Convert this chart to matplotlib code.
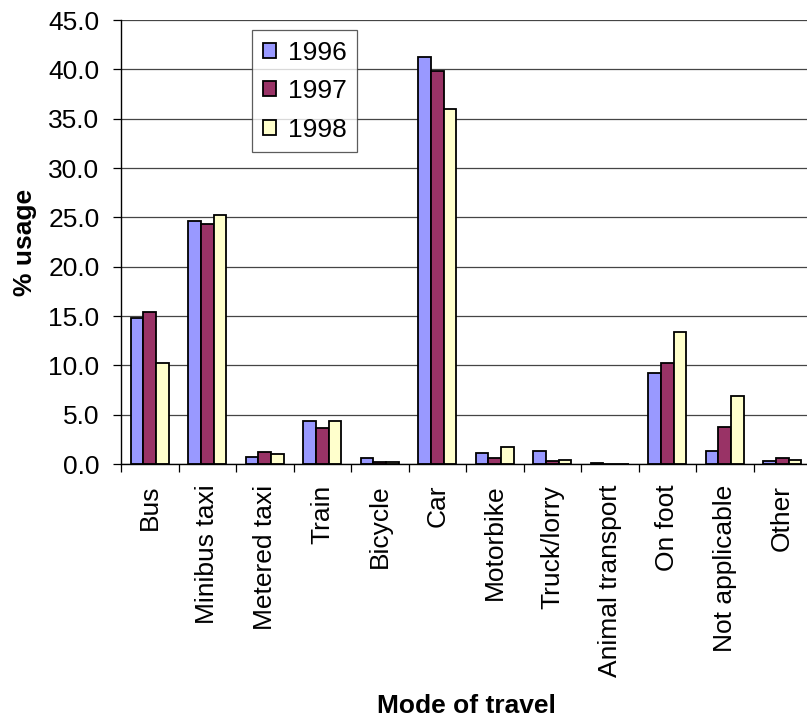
import matplotlib
matplotlib.use("Agg")
import matplotlib.pyplot as plt
import numpy as np

# Survey data: share of respondents by main mode of travel
modes = ["Bus", "Minibus taxi", "Metered taxi", "Train", "Bicycle", "Car",
         "Motorbike", "Truck/lorry", "Animal transport", "On foot",
         "Not applicable", "Other"]
years = ["1996", "1997", "1998"]
usage_1996 = [14.8, 24.6, 0.7, 4.4, 0.6, 41.2, 1.1, 1.3, 0.1, 9.2, 1.3, 0.3]
usage_1997 = [15.4, 24.3, 1.2, 3.6, 0.2, 39.8, 0.6, 0.3, 0.0, 10.2, 3.7, 0.6]
usage_1998 = [10.2, 25.2, 1.0, 4.4, 0.2, 36.0, 1.7, 0.4, 0.0, 13.4, 6.9, 0.4]
yticks = [0, 5, 10, 15, 20, 25, 30, 35, 40, 45]

series = [usage_1996, usage_1997, usage_1998]
colors = ["#9999FF", "#993366", "#FFFFCC"]

plt.rcParams["font.family"] = ["Liberation Sans", "DejaVu Sans"]
FS = 19

W, H = 807, 723
fig = plt.figure(figsize=(W / 100, H / 100), dpi=100)
ax = fig.add_axes([121 / W, 1 - 464 / H, 690 / W, 444 / H])

x = np.arange(len(modes))
bw = 1 / 4.5
for i, (vals, col, yr) in enumerate(zip(series, colors, years)):
    ax.bar(x + (i - 1) * bw, vals, width=bw, color=col, edgecolor="black",
           linewidth=1.3, label=yr, zorder=3)

ax.set_xlim(-0.5, len(modes) - 0.5)
ax.set_ylim(0, 45)
ax.set_yticks(yticks)
ax.set_yticklabels([f"{v:.1f}" for v in yticks], fontsize=FS)
ax.yaxis.grid(True, color="#454545", linewidth=0.9, zorder=0)
ax.tick_params(axis="y", direction="out", length=5.5, width=0.9, pad=10)

# category boundaries carry the tick marks, centres carry the labels
ax.set_xticks(np.arange(-0.5, len(modes) - 0.4, 1.0))
ax.set_xticklabels([])
ax.tick_params(axis="x", which="major", direction="out", length=6, width=0.9)
ax.set_xticks(x, minor=True)
ax.set_xticklabels(modes, minor=True, rotation=90, fontsize=FS)
ax.tick_params(axis="x", which="minor", length=0, pad=15)

for side in ("top", "right"):
    ax.spines[side].set_visible(False)
for side in ("left", "bottom"):
    ax.spines[side].set_linewidth(1.0)
    ax.spines[side].set_zorder(4)

fig.text(25 / W, 1 - 242 / H, "% usage", rotation=90, ha="center",
         va="center", fontsize=FS, fontweight="bold")
fig.text(466 / W, 1 - 706 / H, "Mode of travel", ha="center", va="center",
         fontsize=FS, fontweight="bold")

leg = ax.legend(loc="upper left", bbox_to_anchor=(252 / W, 1 - 30 / H),
                bbox_transform=fig.transFigure, borderaxespad=0,
                fontsize=FS, frameon=True, fancybox=False,
                handlelength=0.5, handleheight=0.5, handletextpad=0.45,
                labelspacing=0.55, borderpad=0.4)
leg.get_frame().set_edgecolor("#333333")
leg.get_frame().set_linewidth(0.9)
leg.set_zorder(5)

fig.savefig("out.png", dpi=100)
